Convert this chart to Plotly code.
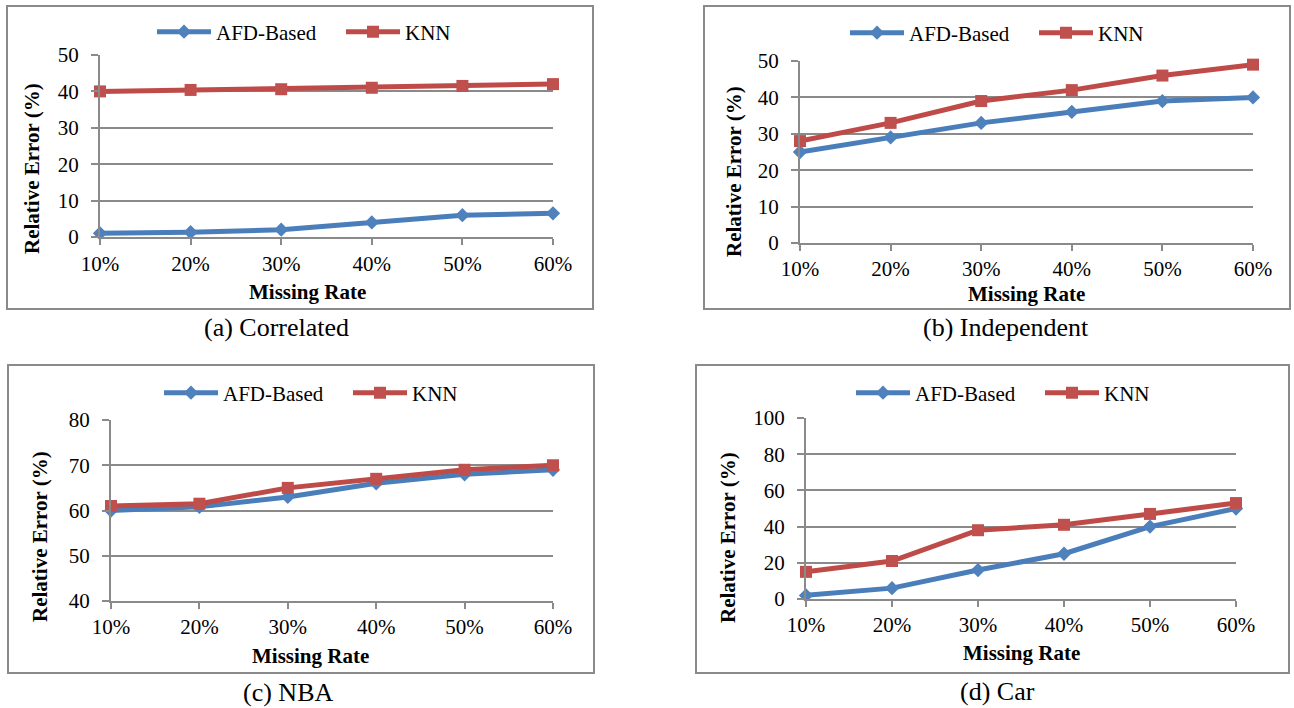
import plotly.graph_objects as go

W, H = 1294, 708

# ---------------- data ----------------
missing_rates = ["10%", "20%", "30%", "40%", "50%", "60%"]
series_names = ["AFD-Based", "KNN"]

corr_afd = [1, 1.3, 2, 4, 6, 6.5]
corr_knn = [40, 40.4, 40.6, 41, 41.5, 42]
indep_afd = [25, 29, 33, 36, 39, 40]
indep_knn = [28, 33, 39, 42, 46, 49]
nba_afd = [60, 60.8, 63, 66, 68, 69]
nba_knn = [61, 61.5, 65, 67, 69, 70]
car_afd = [2, 6, 16, 25, 40, 50]
car_knn = [15, 21, 38, 41, 47, 53]

captions = ["(a) Correlated", "(b) Independent", "(c) NBA", "(d) Car"]
x_title = "Missing Rate"
y_title = "Relative Error (%)"
y_ranges = [[0, 50], [0, 50], [40, 80], [0, 100]]
y_dticks = [10, 10, 10, 20]

# ---------------- styling / layout geometry (page pixels) ----------------
FONT = "Times New Roman, Liberation Serif, serif"
GRAY = "#8a8a8a"
BLUE_LINE, BLUE_MARK = "#4A7EBB", "#4F81BD"
RED_LINE, RED_MARK = "#BE4B48", "#C0504D"

panels = [
    dict(afd=corr_afd, knn=corr_knn, plot=(100, 553, 55, 237), box=(7, 593, 6, 309),
         ytitle=(32, 169), xtitle=(307, 292), cap=(276, 327), leg=(160, 32), stand=1),
    dict(afd=indep_afd, knn=indep_knn, plot=(800, 1253, 61, 243), box=(704, 1290, 6, 309),
         ytitle=(734, 172), xtitle=(1026, 294), cap=(1006, 327), leg=(853, 33), stand=0),
    dict(afd=nba_afd, knn=nba_knn, plot=(111, 553, 420, 601), box=(8, 594, 365, 673),
         ytitle=(40, 537), xtitle=(310, 656), cap=(288, 692), leg=(167, 393), stand=0),
    dict(afd=car_afd, knn=car_knn, plot=(806, 1236, 418, 599), box=(696, 1289, 365, 673),
         ytitle=(728, 537), xtitle=(1021, 653), cap=(997, 691), leg=(859, 393), stand=0),
]


def px(x):
    return x / W


def py(y):
    return 1 - y / H


fig = go.Figure()
layout = dict(
    width=W, height=H, margin=dict(l=0, r=0, t=0, b=0, autoexpand=False),
    paper_bgcolor="white", plot_bgcolor="white",
    font=dict(family=FONT, color="black", size=21),
    shapes=[], annotations=[], showlegend=True,
)

for i, p in enumerate(panels):
    n = "" if i == 0 else str(i + 1)
    leg = "legend" if i == 0 else f"legend{i + 1}"
    xa, ya = f"x{n}", f"y{n}"
    for name, vals, lc, mc, sym, size in [
        (series_names[0], p["afd"], BLUE_LINE, BLUE_MARK, "diamond", 11),
        (series_names[1], p["knn"], RED_LINE, RED_MARK, "square", 12),
    ]:
        fig.add_trace(go.Scatter(
            x=missing_rates, y=vals, name=name, mode="lines+markers",
            line=dict(color=lc, width=5),
            marker=dict(symbol=sym, size=size, color=mc, line=dict(width=0)),
            xaxis=xa, yaxis=ya, legend=leg, cliponaxis=False,
        ))
    x0, x1, yt, yb = p["plot"]
    layout[f"xaxis{n}"] = dict(
        domain=[px(x0), px(x1)], anchor=ya, type="category", range=[0, 5],
        showline=True, linecolor=GRAY, linewidth=2, showgrid=False,
        ticks="outside", ticklen=6, tickwidth=2, tickcolor=GRAY,
        tickfont=dict(size=21, family=FONT), ticklabelstandoff=p["stand"],
        automargin=False,
    )
    layout[f"yaxis{n}"] = dict(
        domain=[py(yb), py(yt)], anchor=xa, range=y_ranges[i], dtick=y_dticks[i],
        showline=True, linecolor=GRAY, linewidth=2,
        showgrid=True, gridcolor=GRAY, gridwidth=2, zeroline=False,
        ticks="outside", ticklen=7, tickwidth=2, tickcolor=GRAY,
        tickfont=dict(size=21, family=FONT), ticklabelstandoff=8,
        automargin=False,
    )
    lx, ly = p["leg"]
    layout[leg] = dict(
        orientation="h", x=px(lx - 8), y=py(ly), xanchor="left", yanchor="middle",
        font=dict(size=21, family=FONT), itemwidth=54, entrywidth=120,
        bgcolor="rgba(0,0,0,0)", borderwidth=0, traceorder="normal",
    )
    bx0, bx1, by0, by1 = p["box"]
    layout["shapes"].append(dict(
        type="rect", xref="paper", yref="paper",
        x0=px(bx0), x1=px(bx1), y0=py(by1), y1=py(by0),
        line=dict(color=GRAY, width=2), fillcolor="rgba(0,0,0,0)",
    ))
    tx, ty = p["ytitle"]
    layout["annotations"].append(dict(
        text=f"<b>{y_title}</b>", xref="paper", yref="paper", x=px(tx), y=py(ty),
        xanchor="center", yanchor="middle", textangle=-90, showarrow=False,
        font=dict(size=21, family=FONT, color="black"),
    ))
    mx, my = p["xtitle"]
    layout["annotations"].append(dict(
        text=f"<b>{x_title}</b>", xref="paper", yref="paper", x=px(mx), y=py(my),
        xanchor="center", yanchor="middle", showarrow=False,
        font=dict(size=21, family=FONT, color="black"),
    ))
    cx, cy = p["cap"]
    layout["annotations"].append(dict(
        text=captions[i], xref="paper", yref="paper", x=px(cx), y=py(cy),
        xanchor="center", yanchor="middle", showarrow=False,
        font=dict(size=26, family=FONT, color="black"),
    ))

fig.update_layout(**layout)
# remove the browser's default 8px body margin so the figure fills the window exactly
fig.write_html("out.html", config={"displayModeBar": False},
               post_script="document.body.style.margin='0';")
